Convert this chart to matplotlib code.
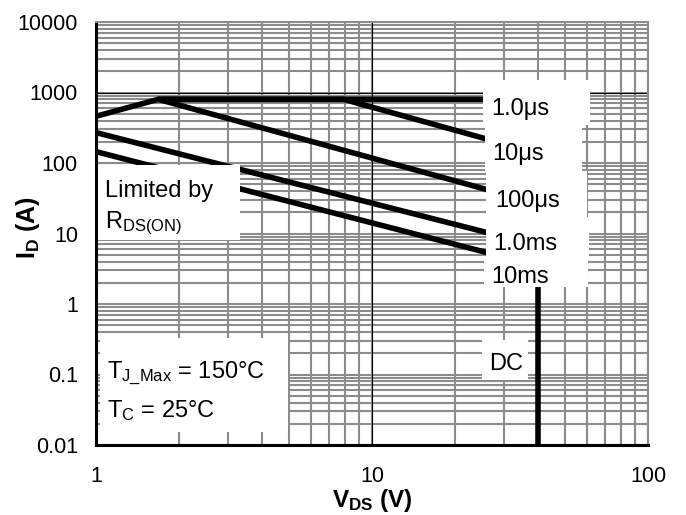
import matplotlib
matplotlib.use("Agg")
import matplotlib.pyplot as plt
from matplotlib.patches import Rectangle
from matplotlib.ticker import LogLocator, NullFormatter, FixedLocator

plt.rcParams['font.family'] = ['Liberation Sans', 'DejaVu Sans']
plt.rcParams['mathtext.fontset'] = 'custom'
plt.rcParams['mathtext.rm'] = 'Liberation Sans'
plt.rcParams['mathtext.it'] = 'Liberation Sans'
plt.rcParams['mathtext.bf'] = 'Liberation Sans:bold'

# ---- data ----
x_ticks = [1, 10, 100]
x_tick_labels = ["1", "10", "100"]
y_ticks = [0.01, 0.1, 1, 10, 100, 1000, 10000]
y_tick_labels = ["0.01", "0.1", "1", "10", "100", "1000", "10000"]

v_1us = [1, 1.68, 25.5]
i_1us = [460, 800, 800]
v_10us = [1.68, 7.9, 26]
i_10us = [800, 800, 219]
v_100us = [1.68, 26.4]
i_100us = [800, 41.4]
v_1ms = [1, 26.4]
i_1ms = [270, 10.2]
v_10ms = [1, 26.4]
i_10ms = [145, 5.3]
v_dc = [40, 40]
i_dc = [0.01, 1.8]

curve_labels = ["1.0\u03bcs", "10\u03bcs", "100\u03bcs", "1.0ms", "10ms"]

# ---- figure ----
fig = plt.figure(figsize=(6.86, 5.15), dpi=100)
ax = fig.add_axes([96/686, 70/515, 552/686, 423/515])
ax.set_xscale('log')
ax.set_yscale('log')
ax.set_xlim(x_ticks[0], x_ticks[-1])
ax.set_ylim(y_ticks[0], y_ticks[-1])

ax.xaxis.set_major_locator(FixedLocator(x_ticks))
ax.set_xticklabels(x_tick_labels)
ax.yaxis.set_major_locator(FixedLocator(y_ticks))
ax.set_yticklabels(y_tick_labels)
ax.xaxis.set_minor_locator(LogLocator(base=10, subs=range(2, 10), numticks=20))
ax.yaxis.set_minor_locator(LogLocator(base=10, subs=range(2, 10), numticks=20))
ax.xaxis.set_minor_formatter(NullFormatter())
ax.yaxis.set_minor_formatter(NullFormatter())

ax.tick_params(which='both', length=0)
ax.tick_params(axis='x', which='major', labelsize=15.5, pad=15)
ax.tick_params(axis='y', which='major', labelsize=15.5, pad=13)

ax.set_axisbelow(True)
ax.grid(which='both', color='#8c8c8c', linewidth=1.5)
ax.axvline(x_ticks[1], color='black', linewidth=0.8, zorder=0.6)
ax.axhline(y_ticks[5], color='black', linewidth=0.8, zorder=0.6)

for s in ['top', 'right']:
    ax.spines[s].set_color('#8c8c8c')
    ax.spines[s].set_linewidth(1.5)
for s in ['left', 'bottom']:
    ax.spines[s].set_color('black')
    ax.spines[s].set_linewidth(2.2)

lw = 4.0
for v, i in [(v_1us, i_1us), (v_10us, i_10us), (v_100us, i_100us),
             (v_1ms, i_1ms), (v_10ms, i_10ms), (v_dc, i_dc)]:
    ax.plot(v, i, color='black', linewidth=lw, solid_capstyle='butt', zorder=2)

def px_box(x0, y0, x1, y1):
    # pixel coordinates of the figure -> axes fraction
    ax.add_patch(Rectangle(((x0 - 96) / 552, (445 - y1) / 423),
                           (x1 - x0) / 552, (y1 - y0) / 423,
                           transform=ax.transAxes, facecolor='white',
                           edgecolor='none', zorder=3, clip_on=False))

# white label boxes
px_box(98, 165, 240, 240)     # Limited by R_DS(ON)
px_box(100, 338, 288, 432)    # T box
px_box(482, 340, 528, 380)    # DC
px_box(483, 80, 590, 125)
px_box(485, 125, 582, 171)
px_box(486, 171, 587, 217)
px_box(486, 217, 589, 260)
px_box(484, 260, 588, 287)

fs = 17
tk = dict(transform=ax.transAxes, fontsize=fs, va='baseline', ha='left', zorder=4)
label_pos = [(0.7156, 0.780), (0.7186, 0.674), (0.7228, 0.563), (0.7198, 0.461), (0.7156, 0.383)]
for (x, y), t in zip(label_pos, curve_labels):
    ax.text(x, y, t, **tk)
ax.text(0.712, 0.177, "DC", **tk)
ax.text(0.016, 0.586, "Limited by", **tk)
ax.text(0.016, 0.513, r"R$_{\mathrm{DS(ON)}}$", **tk)
ax.text(0.020, 0.158, "T$_{\\mathrm{J\\_Max}}$ = 150\u00b0C", **tk)
ax.text(0.020, 0.066, "T$_{\\mathrm{C}}$ = 25\u00b0C", **tk)

ax.set_xlabel(r"V$_{\mathbf{DS}}$ (V)", fontsize=17.5, fontweight='bold')
ax.xaxis.set_label_coords(0.5, (445 - 487) / 423)
ax.set_ylabel(r"I$_{\mathbf{D}}$ (A)", fontsize=18, fontweight='bold')
ax.yaxis.set_label_coords((42 - 96) / 552, 0.515)

fig.savefig("out.png", dpi=100)
